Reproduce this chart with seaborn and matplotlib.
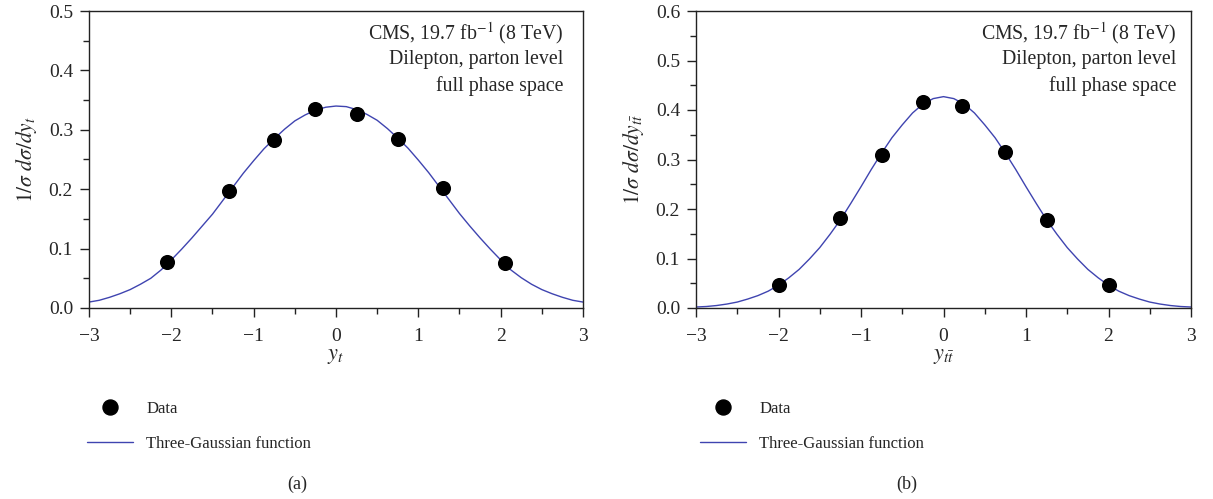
import numpy as np
import pandas as pd
import matplotlib
matplotlib.use("Agg")
import matplotlib.pyplot as plt
from matplotlib.lines import Line2D
from matplotlib.ticker import MultipleLocator
import seaborn as sns

# ---- data ----
data_x_a = [-2.05, -1.30, -0.75, -0.25, 0.25, 0.75, 1.30, 2.05]
data_y_a = [0.077, 0.197, 0.282, 0.335, 0.327, 0.284, 0.202, 0.075]

data_x_b = [-2.00, -1.25, -0.75, -0.25, 0.23, 0.75, 1.25, 2.00]
data_y_b = [0.046, 0.182, 0.309, 0.417, 0.408, 0.315, 0.178, 0.046]

curve_x = [-3.0, -2.875, -2.75, -2.625, -2.5, -2.375, -2.25, -2.125, -2.0, -1.875, -1.75, -1.625,
           -1.5, -1.375, -1.25, -1.125, -1.0, -0.875, -0.75, -0.625, -0.5, -0.375, -0.25, -0.125,
           0.0, 0.125, 0.25, 0.375, 0.5, 0.625, 0.75, 0.875, 1.0, 1.125, 1.25, 1.375,
           1.5, 1.625, 1.75, 1.875, 2.0, 2.125, 2.25, 2.375, 2.5, 2.625, 2.75, 2.875, 3.0]
curve_y_a = [0.010, 0.013, 0.018, 0.024, 0.031, 0.040, 0.050, 0.064, 0.081, 0.099, 0.118, 0.138,
             0.158, 0.181, 0.204, 0.227, 0.248, 0.268, 0.285, 0.301, 0.315, 0.325, 0.333, 0.338,
             0.340, 0.339, 0.334, 0.326, 0.316, 0.302, 0.286, 0.269, 0.249, 0.228, 0.205, 0.182,
             0.159, 0.138, 0.118, 0.099, 0.081, 0.064, 0.051, 0.040, 0.031, 0.024, 0.018, 0.013, 0.010]
curve_y_b = [0.002, 0.003, 0.005, 0.008, 0.012, 0.018, 0.025, 0.034, 0.046, 0.061, 0.078, 0.099,
             0.122, 0.149, 0.178, 0.211, 0.245, 0.280, 0.313, 0.344, 0.370, 0.394, 0.412, 0.423,
             0.427, 0.423, 0.412, 0.394, 0.370, 0.344, 0.313, 0.280, 0.245, 0.211, 0.178, 0.149,
             0.122, 0.099, 0.078, 0.061, 0.046, 0.034, 0.025, 0.018, 0.012, 0.008, 0.005, 0.003, 0.002]

x_ticks = [-3, -2, -1, 0, 1, 2, 3]
x_tick_labels = ["\u22123", "\u22122", "\u22121", "0", "1", "2", "3"]

annot_lines = ["CMS, 19.7 fb$^{-1}$ (8 TeV)", "Dilepton, parton level", "full phase space"]
legend_labels = ["Data", "Three-Gaussian function"]

sns.set_theme(style="ticks")
plt.rcParams["font.family"] = ["Liberation Serif", "DejaVu Serif"]
plt.rcParams["mathtext.fontset"] = "stix"

LINE_COLOR = "#3f44b0"
FS_TICK = 14
FS_TEXT = 14.3
AX_COLOR = "#222222"

fig = plt.figure(figsize=(12.13, 4.99), dpi=100)
ax_a = fig.add_axes([89 / 1213, 1 - 308 / 499, 494 / 1213, 297 / 499])
ax_b = fig.add_axes([696 / 1213, 1 - 308 / 499, 495 / 1213, 297 / 499])

panels = [
    (ax_a, data_x_a, data_y_a, curve_y_a, 0.5, [0.0, 0.1, 0.2, 0.3, 0.4, 0.5],
     r"$1/\sigma\ d\sigma/dy_t$", r"$y_t$", 0.960),
    (ax_b, data_x_b, data_y_b, curve_y_b, 0.6, [0.0, 0.1, 0.2, 0.3, 0.4, 0.5, 0.6],
     r"$1/\sigma\ d\sigma/dy_{t\bar{t}}$", r"$y_{t\bar{t}}$", 0.970),
]

for ax, dx, dy, cy, ymax, yt, ylab, xlab, tx in panels:
    cdf = pd.DataFrame({"x": curve_x, "y": cy})
    ddf = pd.DataFrame({"x": dx, "y": dy})
    sns.lineplot(data=cdf, x="x", y="y", ax=ax, color=LINE_COLOR, linewidth=1.0)
    sns.scatterplot(data=ddf, x="x", y="y", ax=ax, color="black", s=118,
                    edgecolor="black", linewidth=0, zorder=3)
    ax.set_xlim(-3, 3)
    ax.set_ylim(0, ymax)
    ax.set_xticks(x_ticks)
    ax.set_xticklabels(x_tick_labels)
    ax.set_yticks(yt)
    ax.set_yticklabels([f"{v:.1f}" for v in yt])
    ax.xaxis.set_minor_locator(MultipleLocator(0.5))
    ax.yaxis.set_minor_locator(MultipleLocator(0.05))
    ax.tick_params(axis="both", which="major", direction="out", length=6.5, width=1.0,
                   labelsize=FS_TICK, color=AX_COLOR)
    ax.tick_params(axis="x", which="major", pad=8)
    ax.tick_params(axis="y", which="major", pad=5)
    ax.tick_params(axis="both", which="minor", direction="out", length=4, width=1.0,
                   color=AX_COLOR)
    for sp in ax.spines.values():
        sp.set_visible(True)
        sp.set_linewidth(1.0)
        sp.set_color(AX_COLOR)
    ax.set_xlabel(xlab, fontsize=16, labelpad=1)
    ax.set_ylabel(ylab, fontsize=15.5, labelpad=7)
    for i, t in enumerate(annot_lines):
        ax.text(tx, 0.926 - i * 0.089, t, transform=ax.transAxes, ha="right",
                va="center", fontsize=FS_TEXT)
    if ax.get_legend() is not None:
        ax.get_legend().remove()

handles = [
    Line2D([], [], linestyle="none", marker="o", color="black", markersize=10.8),
    Line2D([], [], color=LINE_COLOR, linewidth=1.0),
]
for left_px, tag, tag_x in [(87, "(a)", 297), (700, "(b)", 907)]:
    fig.legend(handles, legend_labels, loc="upper left",
               bbox_to_anchor=(left_px / 1213, 1 - 401 / 499),
               frameon=False, fontsize=12, handlelength=2.75, handletextpad=0.8,
               labelspacing=1.15, borderpad=0, borderaxespad=0)
    fig.text(tag_x / 1213, 1 - 484 / 499, tag, ha="center", va="center", fontsize=13)

fig.savefig("out.png", dpi=100)
